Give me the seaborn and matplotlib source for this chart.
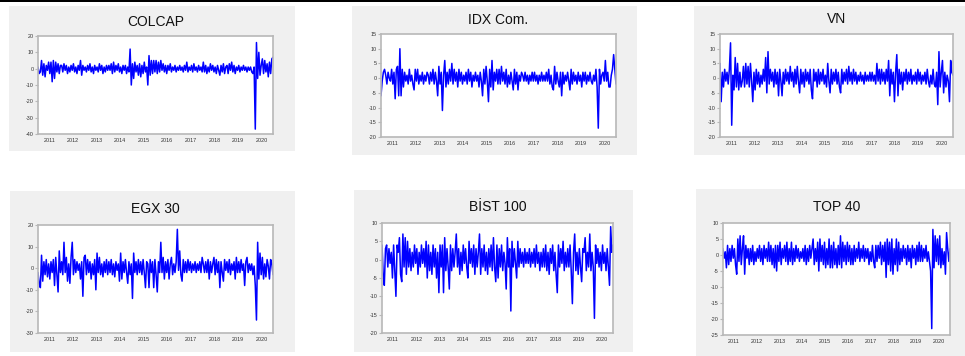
import matplotlib
matplotlib.use("Agg")
import matplotlib.pyplot as plt
import matplotlib.dates as mdates
from matplotlib.patches import Rectangle
import seaborn as sns
import pandas as pd

# ---------------- data (weekly-ish returns) ----------------
titles = ["COLCAP", "IDX Com.", "VN", "EGX 30", "BİST 100", "TOP 40"]

colcap = [
    1, -3, -2, 5, -4, 3, -5, 2, -1, 4, -3, 4, -8, 5, -6, 4, -2, 3, -3, 2,
    2, -2, 3, -1, 2, -3, 1, -2, 2, -1, 3, -2, 1, -3, 2, -1, 5, -4, 2, -1,
    1, -2, 2, -1, 3, -2, 1, -3, 2, -1, 1, -2, 3, -1, 2, -3, 1, -2, 2, -1,
    2, -1, 3, -3, 4, -2, 2, -1, 3, -2, 1, -3, 2, -1, 2, -3, 1, -2, 12, -10,
    3, -6, 4, -2, 2, -4, 3, -5, 2, -3, 4, -2, 1, -10, 8, -4, 5, -3, 5, -2,
    5, -3, 4, -2, 5, -1, 3, -2, 2, -3, 2, -1, 3, -2, 1, -1, 2, -2, 1, -1,
    2, -1, 1, -2, 2, -1, 4, -2, 1, -1, 2, -2, 3, -1, 1, -2, 2, -1, 1, -2,
    4, -2, 2, -3, 1, -2, 3, -1, 2, -2, 1, -3, 2, -1, -4, 2, -2, 3, -3, 1,
    2, -3, 3, -1, 4, -2, 2, -3, 1, -1, 2, -2, 1, -1, 2, -1, 1, -2, 1, -1,
    1, -2, -3, 1, -37, 16, -6, 10, -4, 2, 6, -3, 5, -2, 3, -5, 4, -3, 6, 7,
]
idx_com = [
    -6, -1, 2, 3, 1, -2, 2, 0, -1, 3, -2, 2, -7, 3, 4, -6, 10, -6, 3, -3,
    2, -1, 1, -2, 3, -1, 1, -2, -4, 3, -1, 3, -2, 1, -1, 2, -2, 1, -1, 2,
    1, -2, 2, -1, 3, -2, 2, -1, -6, 4, -2, 2, -11, 1, 6, -3, 2, -2, 3, -1,
    5, -2, 3, -1, 2, -3, 3, -1, 2, -2, 1, -1, 2, -2, 3, -1, 2, -3, 1, -1,
    2, -1, 1, -3, 2, -1, -6, 3, -2, 4, -1, -8, 3, -3, 6, -4, 2, -1, 3, -2,
    3, -2, 4, -1, 2, -2, 3, -3, 1, -2, 2, -1, -4, 3, -2, 2, -4, 1, -1, 2,
    1, -1, 2, -1, 1, -2, 1, -1, 2, -1, 2, -1, 1, -2, 1, -1, 2, -1, 1, -1,
    2, -1, 3, -2, 1, -3, -4, 4, -2, 2, -1, -3, 2, -6, 2, -2, 1, -1, 2, -1,
    -4, 3, -2, 2, -1, 1, -2, 2, -1, 1, -3, 2, -1, 2, -2, 1, -1, 2, -1, -2,
    1, -1, 3, -3, -17, 3, -2, 1, 2, -1, 6, -1, 2, -3, -3, 1, 3, 8, 3, -2,
]
vn = [
    5, -8, 2, -3, 3, -1, 2, -2, 3, 12, -16, 1, -4, 7, -3, 5, -4, 2, -3, -1,
    4, -3, 5, -2, 4, -3, 5, -1, -8, 2, -4, 3, -2, 2, -3, 1, -2, 3, -1, 7,
    -5, 9, -2, 3, -1, 2, -3, 3, -2, 2, -6, 3, -1, -6, 2, -2, 3, -1, 2, -2,
    4, -1, 2, -3, 3, -2, 4, -1, -5, 3, -2, 2, -3, 3, -1, 2, -2, 3, -4, -7,
    3, -1, 2, -3, 3, -2, 2, -1, 3, -2, 1, -3, 5, -1, -5, 3, -2, 2, -1, 3,
    -2, 2, -3, -5, 3, -2, 2, -1, 3, -2, 4, -1, 2, -2, 3, -1, 2, -2, 1, -1,
    2, -1, 1, -2, 2, -1, 1, -1, 2, -1, 2, -1, 1, -2, 5, -1, 3, -2, 3, -1,
    2, -2, 3, -1, 6, -6, 3, -2, 2, -8, 2, 8, -6, 3, -2, 2, -4, 2, -1, 3,
    -2, 2, -1, 3, -2, 1, -1, 2, -2, 3, -1, 2, -2, 1, -1, 2, -2, 3, -1, -3,
    1, -2, 3, -2, -3, 2, -9, 9, -3, 2, 6, -5, 2, -3, 1, -1, -8, 6, 2, 1,
]
egx30 = [
    -2, -7, -9, 6, -6, 3, -3, 4, -4, 2, -5, 3, -2, 4, -8, 5, -3, -11, 8, -2,
    3, -3, 12, -2, 5, -6, 2, -7, 5, 12, -3, 4, -2, 3, -1, 2, -5, 3, -13, 5,
    6, -3, 4, -2, 3, -5, 2, -3, 4, -10, 7, -2, 5, -3, 2, -4, 3, -2, 4, -3,
    3, -2, 4, -3, 2, -4, 3, -1, 2, -6, 7, -5, 3, -2, 4, -2, -7, 3, -3, 2,
    -14, 7, -2, 3, -3, 4, -2, 3, -3, 4, -2, -9, 3, 2, -9, 4, -2, 3, -9, 4,
    -3, -11, 3, -2, 12, -2, 5, -5, 3, -2, 4, -5, 2, 5, -3, 2, -2, 3, 18, -1,
    8, -3, -6, 4, -2, 3, -2, 4, -1, 3, -2, 2, -1, 3, -2, 2, -1, 3, -2, 5,
    2, -2, 3, -2, 4, -5, 3, -2, 2, 5, -3, 4, -2, 3, -9, 3, -2, -6, 4, -1,
    3, -2, 4, -3, 2, -1, 3, -5, 5, -2, 3, -2, 4, -1, 2, -8, 3, 5, -2, 2,
    -1, 2, -3, 1, -8, -24, 12, -5, 7, -3, 5, -5, 2, -4, 4, 1, -5, 4, 2, -3,
]
bist100 = [
    4, -4, -7, 3, 4, -2, 3, -1, 2, -5, 4, -3, -10, 4, 2, 6, -4, -6, 7, -2,
    6, -4, 5, -2, 3, -3, 2, -2, 4, -1, 3, -4, 2, -2, 4, -1, 3, -2, 5, -5,
    4, -3, 2, -4, 4, -2, 3, -5, 2, -9, 4, -2, 4, -9, 6, -3, 3, -2, -8, 4,
    -3, 3, -2, 2, 7, -2, 3, -4, 2, -3, 4, -1, 3, -2, -5, 5, -1, 3, -2, 4,
    -4, 3, -2, 2, 7, -4, 3, -2, 4, -3, 2, -4, 3, -2, 4, -3, 6, -2, -6, 4,
    -5, 3, -2, 4, -3, 2, -1, -8, 6, -2, 3, -14, 5, -2, 3, -1, -5, 5, -2, 3,
    -1, 2, -2, 3, -1, 2, -1, 3, -2, 2, -1, 3, -2, 4, -1, 2, -3, 2, -2, 3,
    -2, 4, -3, 2, -4, 3, -1, 4, -3, 2, -4, -9, 4, -2, 3, -1, 5, -3, 2, -2,
    3, -2, 4, -3, -12, 2, 7, -3, 2, -4, 3, -2, -6, 3, 2, 6, -3, 2, -2, 7,
    -3, 2, -2, -16, 4, -1, 3, -2, 2, -3, 4, -1, 2, -3, 3, -2, -7, 9, 2, 4,
]
top40 = [
    2, -1, 1, -4, 3, -3, 2, -2, 3, -1, 2, -3, -6, 5, -2, 6, -3, 2, 6, -6,
    3, -1, 2, -3, 2, -2, 3, -3, 1, -2, 2, -1, 3, -2, 2, -3, 3, -1, 2, -2,
    4, -2, 3, -3, 2, -4, 3, -5, 3, -2, 4, -3, 2, -1, 3, -2, 4, -3, 2, -2,
    4, -3, 2, -2, 3, -1, 2, -2, 1, -1, 2, -2, 3, -3, 2, -2, 3, -1, 2, 5,
    -3, 2, -2, 4, -5, 5, -2, 3, -3, 4, -4, 2, -3, 5, -4, 3, -4, 4, -3, 2,
    -4, 3, -3, 6, -4, 4, -2, 3, -3, 4, -2, 3, -3, 2, -3, 3, -2, 2, -1, 4,
    -2, 2, -1, 3, -2, 2, -1, 2, -3, 1, -2, 3, -2, -4, 3, -2, 3, -1, 4, -3,
    3, -2, 4, -7, 5, -3, 4, -5, 5, -6, 2, -3, 5, -5, 4, -3, 2, -2, 3, -1,
    2, -3, 3, -2, 2, -4, 3, -1, 2, -3, 3, -2, 4, -2, 3, -2, 2, -1, 3, -2,
    1, -2, -5, -23, 8, -4, 6, -2, 5, -3, 6, -4, 2, -3, 1, -6, 7, 2, -2, 2,
]
series = [colcap, idx_com, vn, egx30, bist100, top40]
y_ticks = [
    [-40, -30, -20, -10, 0, 10, 20],
    [-20, -15, -10, -5, 0, 5, 10, 15],
    [-20, -15, -10, -5, 0, 5, 10, 15],
    [-30, -20, -10, 0, 10, 20],
    [-20, -15, -10, -5, 0, 5, 10],
    [-25, -20, -15, -10, -5, 0, 5, 10],
]
start_date, end_date = "2011-01-07", "2020-12-25"

# ---------------- layout (pixels) ----------------
W, H = 965, 356
plot_boxes = [(38, 36, 273, 134), (381, 34, 616, 137), (720, 34, 953, 137),
              (38, 225, 273, 333), (382, 223, 613, 333), (723, 223, 950, 335)]
panel_boxes = [(9, 6, 295, 151), (352, 6, 637, 155), (694, 6, 965, 155),
               (10, 191, 295, 352), (354, 190, 633, 352), (696, 189, 965, 356)]
title_y = [22, 20, 19, 209, 207, 207]

sns.set_style("white")
plt.rcParams["font.family"] = ["Liberation Sans", "DejaVu Sans"]

fig = plt.figure(figsize=(W / 100, H / 100), dpi=100)
fig.patch.set_facecolor("white")

def fx(x):
    return x / W

def fy(y):
    return 1 - y / H

# top black band
fig.patches.append(Rectangle((0, fy(2)), 1, 2 / H, transform=fig.transFigure,
                             facecolor="black", edgecolor="none", zorder=-5))

for (px0, py0, px1, py1) in panel_boxes:
    fig.patches.append(Rectangle((fx(px0), fy(py1)), fx(px1 - px0), (py1 - py0) / H,
                                 transform=fig.transFigure, facecolor="#f0f0f0",
                                 edgecolor="none", zorder=-5))

spine_col = "#b8b8b8"
for i, (vals, (x0, y0, x1, y1)) in enumerate(zip(series, plot_boxes)):
    ax = fig.add_axes([fx(x0), fy(y1), fx(x1 - x0), (y1 - y0) / H])
    ax.set_zorder(2)
    dates = pd.date_range(start_date, end_date, periods=len(vals))
    df = pd.DataFrame({"date": dates, "value": vals})
    sns.lineplot(data=df, x="date", y="value", ax=ax, color="#0000ff",
                 linewidth=1.1, estimator=None)
    ax.set_facecolor("white")
    ax.set_xlim(dates[0], dates[-1])
    yt = y_ticks[i]
    ax.set_ylim(yt[0], yt[-1])
    ax.set_yticks(yt)
    ax.set_yticklabels([str(t) for t in yt])
    ax.xaxis.set_major_locator(mdates.YearLocator())
    ax.xaxis.set_major_formatter(plt.NullFormatter())
    ax.xaxis.set_minor_locator(mdates.MonthLocator(bymonth=7, bymonthday=1))
    ax.xaxis.set_minor_formatter(mdates.DateFormatter("%Y"))
    ax.tick_params(axis="x", which="major", direction="in", length=2,
                   color=spine_col, width=0.8)
    ax.tick_params(axis="x", which="minor", length=0, pad=3, labelsize=3.9,
                   labelcolor="#333333")
    ax.tick_params(axis="y", direction="out", length=2, pad=1, labelsize=3.9,
                   color=spine_col, width=0.8, labelcolor="#333333", left=True)
    ax.set_xlabel("")
    ax.set_ylabel("")
    for s in ax.spines.values():
        s.set_color(spine_col)
        s.set_linewidth(1.2)
    fig.text(fx((x0 + x1) / 2), fy(title_y[i]), titles[i], ha="center",
             va="center", fontsize=10, color="#111111")

fig.savefig("out.png", dpi=100)
